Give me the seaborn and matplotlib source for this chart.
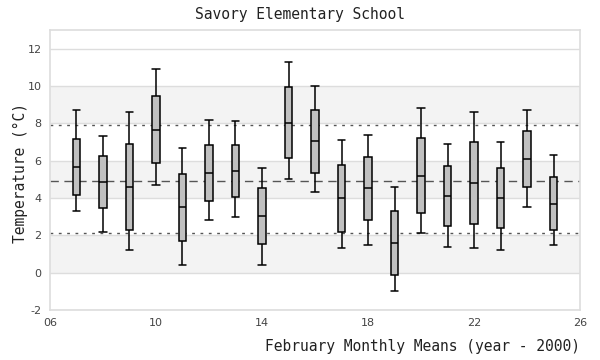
import numpy as np
import pandas as pd
import matplotlib
matplotlib.use("Agg")
import matplotlib.pyplot as plt
import seaborn as sns

years = [7, 8, 9, 10, 11, 12, 13, 14, 15, 16, 17, 18, 19, 20, 21, 22, 23, 24, 25]
whisker_low = [3.30, 2.17, 1.21, 4.70, 0.40, 2.82, 2.98, 0.40, 5.02, 4.32, 1.31, 1.47, -1.00, 2.12, 1.37, 1.31, 1.21, 3.51, 1.47]
q1 = [4.16, 3.46, 2.28, 5.88, 1.69, 3.84, 4.05, 1.53, 6.15, 5.34, 2.17, 2.82, -0.14, 3.19, 2.49, 2.60, 2.39, 4.59, 2.28]
median = [5.66, 4.86, 4.61, 7.65, 3.51, 5.34, 5.45, 3.05, 8.03, 7.08, 4.00, 4.53, 1.60, 5.18, 4.11, 4.80, 4.00, 6.11, 3.68]
q3 = [7.17, 6.25, 6.90, 9.48, 5.29, 6.84, 6.84, 4.53, 9.96, 8.72, 5.77, 6.20, 3.30, 7.22, 5.72, 7.01, 5.61, 7.60, 5.13]
whisker_high = [8.72, 7.33, 8.62, 10.93, 6.68, 8.19, 8.13, 5.61, 11.30, 10.01, 7.11, 7.38, 4.59, 8.83, 6.90, 8.62, 7.01, 8.72, 6.31]

overall_mean = 4.91
upper_line = 7.92
lower_line = 2.12

x_ticks = [6, 10, 14, 18, 22, 26]
x_tick_labels = ["06", "10", "14", "18", "22", "26"]
y_ticks = [-2, 0, 2, 4, 6, 8, 10, 12]
bands = [(0, 2), (4, 6), (8, 10)]

rows = []
for i, yr in enumerate(years):
    for v in (whisker_low[i], q1[i], median[i], q3[i], whisker_high[i]):
        rows.append({"year": yr, "temp": v})
df = pd.DataFrame(rows)

sns.set_theme(style="white")
plt.rcParams["axes.unicode_minus"] = False
mono = ["DejaVu Sans Mono"]

fig = plt.figure(figsize=(6, 3.6), dpi=100)
ax = fig.add_axes([50 / 600, 1 - 310 / 360, 530 / 600, 280 / 360])

for lo, hi in bands:
    ax.axhspan(lo, hi, color="#f3f3f3", zorder=0, lw=0)
for t in y_ticks:
    ax.axhline(t, color="#dddddd", lw=1, zorder=0.5)

ax.axhline(overall_mean, color="#555555", lw=1, ls=(0, (6, 4)), zorder=1)
ax.axhline(upper_line, color="#555555", lw=1, ls=(0, (2, 4)), zorder=1)
ax.axhline(lower_line, color="#555555", lw=1, ls=(0, (2, 4)), zorder=1)

box_w = 0.3
sns.boxplot(data=df, x="year", y="temp", native_scale=True, whis=(0, 100),
            width=box_w, color="#c0c0c0", linecolor="black", linewidth=1.1,
            saturation=1, ax=ax, zorder=3)

# widen whisker caps to match the box width
for ln in ax.lines:
    xd = np.asarray(ln.get_xdata(), dtype=float)
    yd = np.asarray(ln.get_ydata(), dtype=float)
    if len(xd) == 2 and np.isclose(yd[0], yd[1]):
        span = abs(xd[1] - xd[0])
        if 0 < span < box_w * 0.95:
            c = xd.mean()
            ln.set_xdata([c - box_w / 2, c + box_w / 2])

ax.set_xlim(6, 26)
ax.set_ylim(-2, 13)
ax.set_xticks(x_ticks)
ax.set_xticklabels(x_tick_labels)
ax.set_yticks(y_ticks)
ax.tick_params(axis="both", length=0, labelsize=8, labelcolor="#444444", pad=6)
for s in ax.spines.values():
    s.set_color("#dddddd")
    s.set_linewidth(1.2)
ax.set_xlabel("")
ax.set_ylabel("")

fig.text(0.5, 1 - 15 / 360, "Savory Elementary School", ha="center", va="center",
         fontsize=10.5, family=mono, color="#222222")
fig.text(580 / 600, 1 - 347 / 360, "February Monthly Means (year - 2000)", ha="right",
         va="center", fontsize=10.5, family=mono, color="#222222")
fig.text(20 / 600, 1 - 173 / 360, "Temperature (°C)", ha="center", va="center",
         rotation=90, fontsize=10.5, family=mono, color="#222222")

fig.savefig("out.png", dpi=100)
